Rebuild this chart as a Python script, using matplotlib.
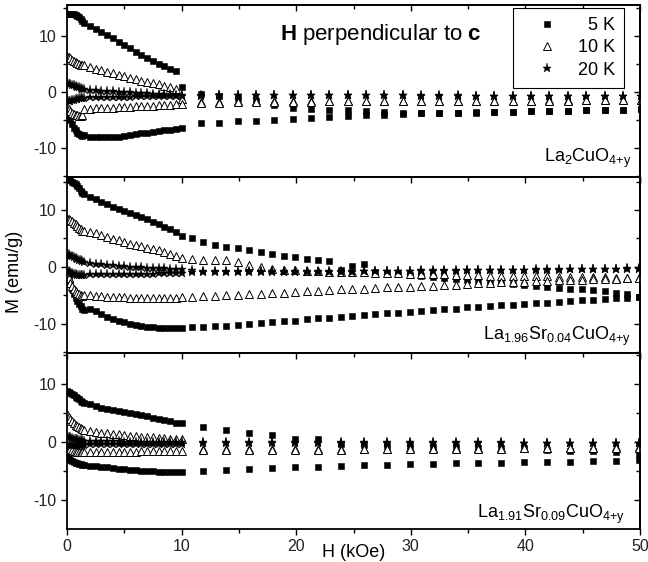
import matplotlib
matplotlib.use("Agg")
import matplotlib.pyplot as plt
from matplotlib.lines import Line2D
from matplotlib.ticker import MultipleLocator

plt.rcParams["font.family"] = ["Liberation Sans", "DejaVu Sans"]
plt.rcParams["mathtext.fontset"] = "custom"
plt.rcParams["mathtext.rm"] = "Liberation Sans"
plt.rcParams["mathtext.bf"] = "Liberation Sans:bold"
plt.rcParams["mathtext.default"] = "regular"
plt.rcParams["axes.unicode_minus"] = False

# field values (kOe): dense sweep below 10 kOe, sparse sweep above
H_DENSE = [0.0, 0.15, 0.3, 0.45, 0.6, 0.75, 0.9, 1.05, 1.2, 1.35,
           1.5, 2.0, 2.5, 3.0, 3.5, 4.0, 4.5, 5.0, 5.5, 6.0,
           6.5, 7.0, 7.5, 8.0, 8.5, 9.0, 9.5, 10.0]
H1_SPARSE = [11.7, 13.3, 14.9, 16.5, 18.1, 19.7, 21.3, 22.9, 24.5, 26.1,
             27.7, 29.3, 30.9, 32.5, 34.1, 35.7, 37.3, 38.9, 40.5, 42.1,
             43.7, 45.3, 46.9, 48.5, 50.1]
H2_SPARSE = [10.9, 11.9, 12.9, 13.9, 14.9, 15.9, 16.9, 17.9, 18.9, 19.9,
             20.9, 21.9, 22.9, 23.9, 24.9, 25.9, 26.9, 27.9, 28.9, 29.9,
             30.9, 31.9, 32.9, 33.9, 34.9, 35.9, 36.9, 37.9, 38.9, 39.9,
             40.9, 41.9, 42.9, 43.9, 44.9, 45.9, 46.9, 47.9, 48.9, 49.9]
H3_SPARSE = [11.9, 13.9, 15.9, 17.9, 19.9, 21.9, 23.9, 25.9, 27.9, 29.9,
             31.9, 33.9, 35.9, 37.9, 39.9, 41.9, 43.9, 45.9, 47.9, 49.9]

# --- La2CuO4+y (emu/g) ---
p1_5k_up = [14.0, 14.0, 14.0, 13.9, 13.9, 13.8, 13.6, 13.4, 13.1, 12.8,
            12.4, 11.9, 11.35, 10.8, 10.2, 9.6, 9.0, 8.4, 7.8, 7.2,
            6.65, 6.1, 5.6, 5.1, 4.65, 4.2, 3.7, 0.8,
            -0.3, -0.7, -1.1, -1.6, -2.3, -2.8, -3.0, -3.2, -3.3, -3.5,
            -3.6, -3.7, -3.7, -3.7, -3.7, -3.65, -3.6, -3.6, -3.5, -3.5,
            -3.4, -3.3, -3.3, -3.2, -3.1]
p1_5k_lo = [-3.2, -4.0, -5.0, -5.8, -6.4, -6.9, -7.3, -7.6, -7.8, -7.9,
            -7.8, -8.0, -8.1, -8.15, -8.15, -8.15, -8.0, -7.9, -7.75, -7.6,
            -7.45, -7.3, -7.15, -7.0, -6.9, -6.75, -6.7, -6.5,
            -5.6, -5.5, -5.3, -5.2, -5.0, -4.85, -4.7, -4.5, -4.4, -4.2,
            -4.1, -3.95, -3.85, -3.8, -3.75, -3.7, -3.65, -3.6, -3.5, -3.5,
            -3.4, -3.3, -3.3, -3.2, -3.1]
p1_10k_up = [6.4, 6.2, 6.0, 5.8, 5.6, 5.4, 5.2, 5.0, 4.9, 4.9,
             4.85, 4.5, 4.2, 3.9, 3.6, 3.35, 3.1, 2.85, 2.55, 2.3,
             2.05, 1.85, 1.6, 1.4, 1.15, 0.9, 0.55, -1.2,
             -1.8, -1.75, -1.7, -1.7, -1.7, -1.7, -1.7, -1.7, -1.7, -1.65,
             -1.65, -1.65, -1.6, -1.6, -1.6, -1.6, -1.55, -1.55, -1.55, -1.5,
             -1.5, -1.5, -1.5, -1.45, -1.45]
p1_10k_lo = [-2.6, -3.0, -3.4, -3.7, -3.9, -4.1, -4.2, -4.3, -4.3, -4.2,
             -3.1, -3.0, -2.95, -2.9, -2.85, -2.8, -2.75, -2.7, -2.65, -2.6,
             -2.55, -2.5, -2.45, -2.4, -2.35, -2.3, -2.25, -2.2,
             -2.0, -1.9, -1.85, -1.8, -1.8, -1.75, -1.75, -1.7, -1.7, -1.7,
             -1.7, -1.65, -1.65, -1.65, -1.6, -1.6, -1.6, -1.6, -1.55, -1.55,
             -1.55, -1.5, -1.5, -1.5, -1.45]
p1_20k_up = [1.6, 1.5, 1.4, 1.3, 1.2, 1.0, 0.9, 0.8, 0.7, 0.6,
             0.5, 0.4, 0.3, 0.2, 0.15, 0.1, 0.0, -0.05, -0.1, -0.15,
             -0.2, -0.25, -0.3, -0.35, -0.4, -0.45, -0.5, -0.55,
             -0.55, -0.55, -0.55, -0.55, -0.55, -0.55, -0.55, -0.55, -0.55, -0.6,
             -0.6, -0.6, -0.6, -0.6, -0.6, -0.65, -0.65, -0.65, -0.7, -0.7,
             -0.7, -0.75, -0.75, -0.8, -0.8]
p1_20k_lo = [-1.5, -1.6, -1.6, -1.5, -1.4, -1.3, -1.2, -1.1, -1.05, -1.0,
             -1.0, -0.95, -0.95, -0.9, -0.9, -0.9, -0.85, -0.85, -0.85, -0.8,
             -0.8, -0.8, -0.75, -0.75, -0.75, -0.7, -0.7, -0.7,
             -0.65, -0.6, -0.6, -0.6, -0.6, -0.6, -0.6, -0.6, -0.6, -0.6,
             -0.6, -0.6, -0.65, -0.65, -0.65, -0.65, -0.65, -0.7, -0.7, -0.7,
             -0.75, -0.75, -0.8, -0.8, -0.8]

# --- La1.96Sr0.04CuO4+y ---
p2_5k_up = [15.6, 15.4, 15.2, 15.0, 14.8, 14.5, 14.2, 13.8, 13.4, 13.0,
            12.8, 12.3, 11.9, 11.4, 11.0, 10.6, 10.2, 9.85, 9.5, 9.1,
            8.75, 8.4, 7.95, 7.5, 7.1, 6.6, 6.1, 5.5,
            5.0, 4.4, 3.9, 3.5, 3.4, 2.9, 2.7, 2.3, 1.95, 1.7,
            1.4, 1.2, 1.1, -0.5, 0.1, 0.5, -0.9, -1.0, -1.2, -1.4,
            -1.6, -1.75, -1.9, -2.1, -2.3, -2.5, -2.7, -2.85, -3.0, -3.2,
            -3.35, -3.5, -3.65, -3.8, -3.95, -4.1, -4.3, -4.5, -4.8, -5.2]
p2_5k_lo = [-0.8, -2.0, -3.0, -3.9, -4.7, -5.4, -6.0, -6.5, -6.9, -7.3,
            -7.5, -7.4, -7.8, -8.3, -8.7, -9.1, -9.4, -9.7, -9.95, -10.15,
            -10.35, -10.5, -10.6, -10.7, -10.75, -10.75, -10.75, -10.75,
            -10.6, -10.5, -10.4, -10.3, -10.1, -10.0, -9.8, -9.6, -9.5, -9.4,
            -9.2, -9.0, -8.9, -8.7, -8.6, -8.5, -8.3, -8.1, -8.0, -7.9,
            -7.8, -7.6, -7.4, -7.3, -7.1, -7.0, -6.9, -6.75, -6.6, -6.5,
            -6.4, -6.3, -6.1, -6.0, -5.85, -5.8, -5.7, -5.5, -5.45, -5.3]
p2_10k_up = [8.6, 8.4, 8.2, 8.0, 7.8, 7.5, 7.2, 6.9, 6.6, 6.4,
             6.3, 6.1, 5.9, 5.6, 5.3, 4.95, 4.65, 4.35, 4.1, 3.85,
             3.6, 3.4, 3.15, 2.9, 2.6, 2.3, 1.95, 1.6,
             1.35, 1.3, 1.25, 1.15, 0.8, 0.4, 0.05, -0.3, -0.5, -0.6,
             -0.7, -0.75, -0.8, -0.85, -0.9, -0.95, -1.0, -1.05, -1.1, -1.15,
             -1.2, -1.25, -1.3, -1.35, -1.4, -1.45, -1.5, -1.5, -1.55, -1.6,
             -1.6, -1.65, -1.7, -1.7, -1.75, -1.8, -1.8, -1.85, -1.85, -1.9]
p2_10k_lo = [-1.2, -2.0, -2.8, -3.4, -3.9, -4.3, -4.6, -4.8, -5.0, -5.1,
             -4.9, -5.0, -5.1, -5.15, -5.2, -5.25, -5.3, -5.35, -5.4, -5.45,
             -5.5, -5.5, -5.5, -5.5, -5.5, -5.45, -5.4, -5.35,
             -5.2, -5.1, -5.05, -4.95, -4.9, -4.8, -4.7, -4.6, -4.5, -4.4,
             -4.3, -4.15, -4.05, -3.95, -3.85, -3.8, -3.7, -3.6, -3.5, -3.45,
             -3.35, -3.3, -3.2, -3.1, -3.0, -2.9, -2.8, -2.7, -2.6, -2.55,
             -2.45, -2.4, -2.3, -2.25, -2.2, -2.15, -2.1, -2.05, -2.0, -2.0]
p2_20k_up = [2.3, 2.2, 2.0, 1.9, 1.75, 1.6, 1.45, 1.3, 1.15, 1.0,
             0.9, 0.75, 0.6, 0.5, 0.4, 0.3, 0.2, 0.1, 0.05, 0.0,
             -0.05, -0.1, -0.15, -0.2, -0.25, -0.3, -0.3, -0.35,
             -0.6, -0.65, -0.7, -0.7, -0.7, -0.7, -0.7, -0.7, -0.7, -0.7,
             -0.7, -0.7, -0.7, -0.7, -0.7, -0.7, -0.7, -0.7, -0.65, -0.65,
             -0.6, -0.6, -0.6, -0.55, -0.55, -0.5, -0.5, -0.5, -0.45, -0.45,
             -0.4, -0.4, -0.4, -0.35, -0.35, -0.3, -0.3, -0.3, -0.25, -0.25]
p2_20k_lo = [-0.5, -0.7, -0.9, -1.1, -1.2, -1.3, -1.35, -1.4, -1.4, -1.4,
             -1.35, -1.3, -1.3, -1.25, -1.25, -1.25, -1.2, -1.2, -1.2, -1.2,
             -1.15, -1.15, -1.15, -1.1, -1.1, -1.1, -1.1, -1.05,
             -0.95, -0.9, -0.9, -0.85, -0.85, -0.85, -0.85, -0.8, -0.8, -0.8,
             -0.8, -0.8, -0.8, -0.8, -0.8, -0.75, -0.75, -0.75, -0.7, -0.7,
             -0.7, -0.65, -0.65, -0.65, -0.6, -0.6, -0.55, -0.55, -0.55, -0.5,
             -0.5, -0.45, -0.45, -0.4, -0.4, -0.35, -0.35, -0.3, -0.3, -0.3]

# --- La1.91Sr0.09CuO4+y ---
p3_5k_up = [8.8, 8.6, 8.4, 8.2, 8.0, 7.8, 7.5, 7.3, 7.1, 6.9,
            6.7, 6.5, 6.15, 5.9, 5.7, 5.5, 5.35, 5.2, 5.0, 4.8,
            4.6, 4.4, 4.2, 4.0, 3.8, 3.55, 3.35, 3.2,
            2.5, 2.05, 1.6, 1.2, 0.45, 0.45, -0.3, -0.5, -0.6, -0.75,
            -0.85, -0.9, -0.95, -1.0, -1.1, -1.35, -1.45, -1.55, -1.7, -2.0]
p3_5k_lo = [-2.5, -2.8, -3.0, -3.2, -3.35, -3.5, -3.6, -3.7, -3.8, -3.9,
            -4.0, -4.05, -4.15, -4.25, -4.35, -4.45, -4.55, -4.65, -4.75, -4.85,
            -4.9, -4.95, -5.0, -5.05, -5.05, -5.1, -5.1, -5.1,
            -4.9, -4.7, -4.6, -4.5, -4.3, -4.2, -4.1, -4.0, -3.95, -3.8,
            -3.7, -3.65, -3.6, -3.55, -3.45, -3.45, -3.35, -3.3, -3.2, -3.0]
p3_10k_up = [4.8, 4.3, 3.9, 3.6, 3.3, 3.0, 2.8, 2.6, 2.45, 2.3,
             2.1, 1.9, 1.75, 1.6, 1.5, 1.4, 1.3, 1.2, 1.1, 1.0,
             0.95, 0.85, 0.8, 0.7, 0.65, 0.55, 0.5, 0.45,
             -1.2, -1.25, -1.25, -1.25, -1.2, -1.2, -1.2, -1.15, -1.15, -1.1,
             -1.1, -1.1, -1.05, -1.05, -1.0, -1.0, -0.95, -0.95, -0.9, -0.9]
p3_10k_lo = [-0.8, -1.0, -1.2, -1.35, -1.5, -1.6, -1.7, -1.7, -1.75, -1.75,
             -1.75, -1.75, -1.75, -1.75, -1.7, -1.7, -1.7, -1.7, -1.65, -1.65,
             -1.6, -1.6, -1.6, -1.55, -1.55, -1.5, -1.5, -1.45,
             -1.3, -1.35, -1.35, -1.35, -1.3, -1.3, -1.3, -1.25, -1.25, -1.2,
             -1.2, -1.2, -1.15, -1.15, -1.1, -1.1, -1.05, -1.05, -1.0, -1.0]
p3_20k_up = [1.0, 0.9, 0.8, 0.7, 0.6, 0.5, 0.45, 0.4, 0.35, 0.3,
             0.25, 0.2, 0.15, 0.15, 0.1, 0.1, 0.1, 0.05, 0.05, 0.05,
             0.05, 0.0, 0.0, 0.0, 0.0, 0.0, 0.0, 0.0,
             0.05, 0.05, 0.05, 0.05, 0.0, 0.0, 0.0, 0.0, 0.0, 0.0,
             -0.05, -0.05, -0.05, -0.05, -0.1, -0.1, -0.1, -0.1, -0.1, -0.1]
p3_20k_lo = [-0.5, -0.5, -0.5, -0.5, -0.5, -0.5, -0.5, -0.45, -0.45, -0.45,
             -0.45, -0.4, -0.4, -0.4, -0.4, -0.4, -0.4, -0.4, -0.35, -0.35,
             -0.35, -0.35, -0.35, -0.3, -0.3, -0.3, -0.3, -0.3,
             -0.1, -0.1, -0.1, -0.1, -0.1, -0.1, -0.1, -0.1, -0.1, -0.1,
             -0.1, -0.1, -0.15, -0.15, -0.15, -0.15, -0.15, -0.15, -0.15, -0.15]

TEMPS = ["5 K", "10 K", "20 K"]
LEGEND_LABELS = ["\u20075 K", "10 K", "20 K"]
SAMPLES = [r"La$_2$CuO$_{4{+}y}$",
           r"La$_{1.96}$Sr$_{0.04}$CuO$_{4{+}y}$",
           r"La$_{1.91}$Sr$_{0.09}$CuO$_{4{+}y}$"]

STYLE = {
    "5 K": dict(marker="s", ms=4.4, mfc="black", mec="black", mew=0.4),
    "10 K": dict(marker="^", ms=5.2, mfc="white", mec="black", mew=0.7),
    "20 K": dict(marker="*", ms=6.8, mfc="black", mec="black", mew=0.3),
}

panels = [
    (H1_SPARSE, {"5 K": (p1_5k_up, p1_5k_lo), "10 K": (p1_10k_up, p1_10k_lo),
                 "20 K": (p1_20k_up, p1_20k_lo)}),
    (H2_SPARSE, {"5 K": (p2_5k_up, p2_5k_lo), "10 K": (p2_10k_up, p2_10k_lo),
                 "20 K": (p2_20k_up, p2_20k_lo)}),
    (H3_SPARSE, {"5 K": (p3_5k_up, p3_5k_lo), "10 K": (p3_10k_up, p3_10k_lo),
                 "20 K": (p3_20k_up, p3_20k_lo)}),
]

# axes boxes in figure fraction, and y ranges per panel
boxes = [(0.1034, 0.6851, 0.8843, 0.3060),
         (0.1034, 0.3719, 0.8843, 0.3132),
         (0.1034, 0.0587, 0.8843, 0.3132)]
ylims = [(-15.26, 15.6), (-15.1, 15.8), (-14.9, 15.27)]
label_pos = [(0.985, 0.085), (0.985, 0.075), (0.975, 0.065)]

fig = plt.figure(figsize=(6.48, 5.62), dpi=100)
axes = []
for i, (h_sparse, series) in enumerate(panels):
    ax = fig.add_axes(boxes[i], sharex=axes[0] if axes else None)
    axes.append(ax)
    H = H_DENSE + h_sparse
    for t in TEMPS:
        up, lo = series[t]
        ax.plot(H, up, ls="none", **STYLE[t])
        ax.plot(H, lo, ls="none", **STYLE[t])

    ax.set_xlim(0, 50)
    ax.set_ylim(*ylims[i])
    ax.xaxis.set_major_locator(MultipleLocator(10))
    ax.xaxis.set_minor_locator(MultipleLocator(5))
    ax.yaxis.set_major_locator(MultipleLocator(10))
    ax.yaxis.set_minor_locator(MultipleLocator(5))
    ax.tick_params(which="both", direction="out", labelsize=11.5,
                   labelcolor="#222222", width=1.0)
    ax.tick_params(which="major", length=4)
    ax.tick_params(which="minor", length=3)
    if i < 2:
        ax.tick_params(labelbottom=False)
    for sp in ax.spines.values():
        sp.set_linewidth(1.3)

    # mirrored ticks pointing inward on top and right
    top = ax.secondary_xaxis("top")
    top.xaxis.set_major_locator(MultipleLocator(10))
    top.xaxis.set_minor_locator(MultipleLocator(5))
    top.tick_params(which="both", direction="in", labeltop=False, width=1.0)
    top.tick_params(which="major", length=4)
    top.tick_params(which="minor", length=3)
    right = ax.secondary_yaxis("right")
    right.yaxis.set_major_locator(MultipleLocator(10))
    right.yaxis.set_minor_locator(MultipleLocator(5))
    right.tick_params(which="both", direction="in", labelright=False, width=1.0)
    right.tick_params(which="major", length=4)
    right.tick_params(which="minor", length=3)
    top.spines["top"].set_linewidth(1.3)
    right.spines["right"].set_linewidth(1.3)

    ax.text(label_pos[i][0], label_pos[i][1], SAMPLES[i], transform=ax.transAxes,
            ha="right", va="baseline", fontsize=13)

ax1, ax2, ax3 = axes
ax1.text(0.548, 0.83, r"$\mathbf{H}$ perpendicular to $\mathbf{c}$",
         transform=ax1.transAxes, ha="center", va="center", fontsize=16)

handles = [Line2D([], [], ls="none", **STYLE[t]) for t in TEMPS]
leg = ax1.legend(handles, LEGEND_LABELS, loc="upper right",
                 bbox_to_anchor=(0.972, 0.983), fontsize=13, frameon=True,
                 fancybox=False, edgecolor="black", framealpha=1,
                 handlelength=2.8, handletextpad=0.3, borderpad=0.5,
                 labelspacing=0.3, borderaxespad=0)
leg.get_frame().set_linewidth(0.8)

ax2.set_ylabel("M (emu/g)", fontsize=13)
ax2.yaxis.set_label_coords(-0.077, 0.46)
ax3.set_xlabel("H (kOe)", fontsize=13)
ax3.xaxis.set_label_coords(0.5, -0.085)

fig.savefig("out.png", dpi=100)
